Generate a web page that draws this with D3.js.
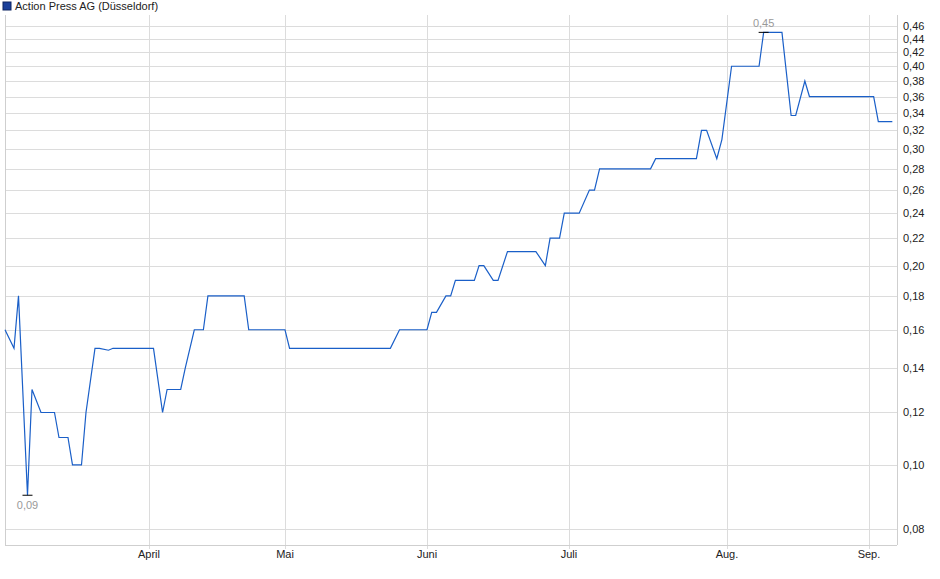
<!DOCTYPE html>
<html><head><meta charset="utf-8">
<script src="https://cdn.jsdelivr.net/npm/d3@7"></script>
<style>body{margin:0;background:#fff}svg{font-family:"Liberation Sans",Arial,sans-serif}</style>
</head><body><svg id="c" width="940" height="579"></svg>
<script>
const title = "Action Press AG (Düsseldorf)";
const dates = ["2023-02-28","2023-03-02","2023-03-03","2023-03-05","2023-03-06","2023-03-08","2023-03-11","2023-03-12","2023-03-14","2023-03-15","2023-03-17","2023-03-18","2023-03-20","2023-03-21","2023-03-23","2023-03-24",
"2023-04-02","2023-04-04","2023-04-05","2023-04-08","2023-04-09","2023-04-11","2023-04-13","2023-04-14","2023-04-22","2023-04-23","2023-05-01",
"2023-05-02","2023-05-24","2023-05-26","2023-06-01",
"2023-06-02","2023-06-03","2023-06-05","2023-06-06","2023-06-07","2023-06-11","2023-06-12","2023-06-13","2023-06-15","2023-06-16","2023-06-18","2023-06-24","2023-06-26","2023-06-27","2023-06-29","2023-06-30",
"2023-07-03","2023-07-05","2023-07-06","2023-07-07","2023-07-17","2023-07-18","2023-07-26","2023-07-27","2023-07-28","2023-07-30","2023-07-31",
"2023-08-02","2023-08-08","2023-08-09","2023-08-13","2023-08-15","2023-08-16","2023-08-18","2023-08-19","2023-09-01",
"2023-09-02","2023-09-03","2023-09-06"];
const values = [0.16,0.15,0.18,0.09,0.13,0.12,0.12,0.11,0.11,0.10,0.10,0.12,0.15,0.15,0.149,0.15,
0.15,0.12,0.13,0.13,0.14,0.16,0.16,0.18,0.18,0.16,0.16,
0.15,0.15,0.16,0.16,
0.17,0.17,0.18,0.18,0.19,0.19,0.20,0.20,0.19,0.19,0.21,0.21,0.20,0.22,0.22,0.24,
0.24,0.26,0.26,0.28,0.28,0.29,0.29,0.32,0.32,0.29,0.31,
0.40,0.40,0.45,0.45,0.337,0.337,0.38,0.36,0.36,
0.36,0.33,0.33];
const yTicks = [0.08,0.10,0.12,0.14,0.16,0.18,0.20,0.22,0.24,0.26,0.28,0.30,0.32,0.34,0.36,0.38,0.40,0.42,0.44,0.46];
const monthTicks = ["2023-04-01","2023-05-01","2023-06-01","2023-07-01","2023-08-01","2023-09-01"];
const monthLabels = ["April","Mai","Juni","Juli","Aug.","Sep."];
const domainDates = ["2023-02-28","2023-04-01","2023-05-01","2023-06-01","2023-07-01","2023-08-01","2023-09-01","2023-09-07"];

const p = d3.timeParse("%Y-%m-%d");
const L=5,R=897,T=15,B=545;
const W=R-L;
const frac=[0,0.1614,0.3139,0.4731,0.6323,0.8094,0.9686,1];
const x=d3.scaleTime().domain(domainDates.map(p)).range(frac.map(f=>L+f*W));
const y=d3.scaleLog().domain([0.0757,0.478]).range([B,T]);
const svg=d3.select("#c");
const data=dates.map((d,i)=>({d:p(d),v:values[i]}));
const fmt=v=>d3.format(".2f")(v).replace(".",",");

svg.append("g").selectAll("line").data(yTicks).join("line")
 .attr("x1",L).attr("x2",R).attr("y1",d=>Math.round(y(d))+.5).attr("y2",d=>Math.round(y(d))+.5)
 .attr("stroke","#dcdcdc");
svg.append("g").selectAll("line").data(monthTicks).join("line")
 .attr("x1",d=>Math.round(x(p(d)))+.5).attr("x2",d=>Math.round(x(p(d)))+.5).attr("y1",T).attr("y2",B+4)
 .attr("stroke","#dcdcdc");
svg.append("line").attr("x1",L+.5).attr("x2",L+.5).attr("y1",T).attr("y2",B).attr("stroke","#cfcfcf");
svg.append("line").attr("x1",L).attr("x2",R).attr("y1",B+.5).attr("y2",B+.5).attr("stroke","#cfcfcf");
svg.append("line").attr("x1",R+.5).attr("x2",R+.5).attr("y1",T).attr("y2",B).attr("stroke","#cfcfcf");

svg.append("g").selectAll("text").data(yTicks).join("text")
 .attr("x",903).attr("y",d=>y(d)+4).attr("font-size",11).attr("fill","#222").text(fmt);
svg.append("g").selectAll("text").data(monthTicks).join("text")
 .attr("x",d=>x(p(d))).attr("y",558).attr("text-anchor","middle").attr("font-size",11).attr("fill","#222")
 .text((d,i)=>monthLabels[i]);

svg.append("path").datum(data).attr("fill","none").attr("stroke","#1a5fc8").attr("stroke-width",1.2)
 .attr("d",d3.line().x(d=>x(d.d)).y(d=>y(d.v)));

const maxI=d3.maxIndex(data,d=>d.v), minI=d3.minIndex(data,d=>d.v);
const mx=data[maxI], mn=data[minI];
svg.append("line").attr("x1",x(mx.d)-5).attr("x2",x(mx.d)+5).attr("y1",y(mx.v)).attr("y2",y(mx.v)).attr("stroke","#000");
svg.append("text").attr("x",x(mx.d)).attr("y",y(mx.v)-5).attr("text-anchor","middle").attr("font-size",11).attr("fill","#999").text(fmt(mx.v));
svg.append("line").attr("x1",x(mn.d)-5).attr("x2",x(mn.d)+5).attr("y1",y(mn.v)).attr("y2",y(mn.v)).attr("stroke","#000");
svg.append("text").attr("x",x(mn.d)).attr("y",y(mn.v)+14).attr("text-anchor","middle").attr("font-size",11).attr("fill","#999").text(fmt(mn.v));

svg.append("rect").attr("x",3).attr("y",2).attr("width",8).attr("height",8).attr("fill","#1a3f9a").attr("stroke","#0d2460");
svg.append("text").attr("x",15).attr("y",10).attr("font-size",11).attr("fill","#222").text(title);
</script></body></html>
